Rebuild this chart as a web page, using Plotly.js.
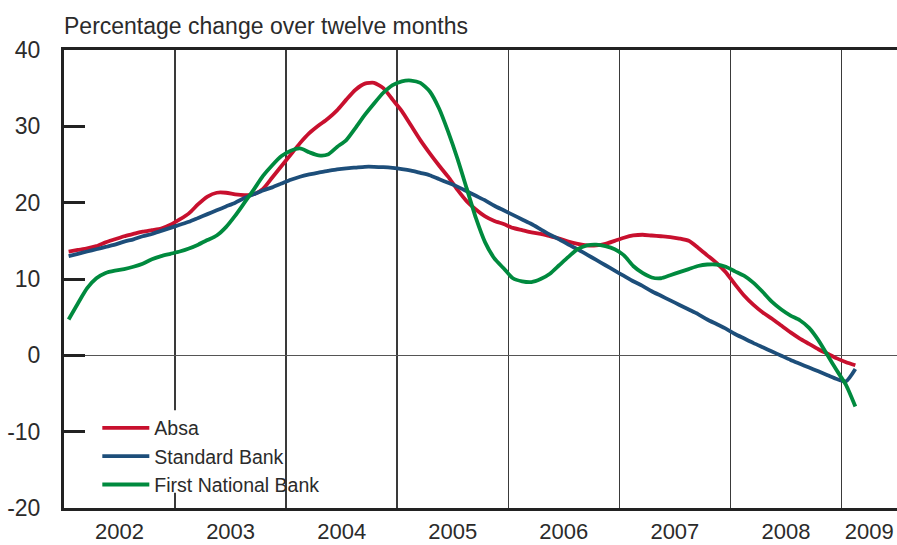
<!DOCTYPE html>
<html>
<head>
<meta charset="utf-8">
<script src="https://cdn.plot.ly/plotly-3.0.1.min.js"></script>
<style>html,body{margin:0;padding:0;background:#fff;}#chart{width:897px;height:545px;}</style>
</head>
<body>
<div id="chart"></div>
<script>
// Monthly observations, Jan 2002 .. Feb 2009 (plotted at mid-month)
const startYear = 2002;
const months = 86;

const absa = [13.6,13.8,14.0,14.3,14.8,15.2,15.6,15.9,16.2,16.4,16.6,17.1,
  17.8,18.6,19.8,20.8,21.3,21.3,21.1,21.0,21.1,21.8,23.3,24.8,
  26.3,27.8,29.1,30.1,31.0,32.1,33.5,34.8,35.6,35.7,35.0,33.5,
  32.0,30.1,28.2,26.5,24.9,23.4,21.7,20.2,19.1,18.2,17.6,17.2,
  16.7,16.4,16.1,15.9,15.6,15.3,14.9,14.6,14.4,14.4,14.6,15.0,
  15.4,15.7,15.8,15.7,15.6,15.5,15.3,15.0,14.1,13.1,12.1,10.9,
  9.3,7.8,6.6,5.6,4.8,3.9,3.0,2.2,1.5,0.8,0.2,-0.4,
  -0.9,-1.3];

const standardBank = [13.0,13.3,13.6,13.9,14.2,14.5,14.9,15.2,15.6,15.9,16.3,16.7,
  17.1,17.5,18.0,18.5,19.0,19.5,20.0,20.6,21.1,21.6,22.0,22.5,
  23.0,23.4,23.7,23.95,24.15,24.35,24.5,24.6,24.7,24.7,24.65,24.55,
  24.4,24.2,23.9,23.6,23.1,22.6,22.1,21.5,20.9,20.3,19.6,19.0,
  18.4,17.8,17.2,16.5,15.8,15.2,14.5,13.9,13.2,12.5,11.8,11.1,
  10.4,9.7,9.1,8.4,7.8,7.2,6.6,6.0,5.4,4.7,4.1,3.5,
  2.8,2.2,1.6,1.05,0.5,-0.05,-0.6,-1.1,-1.6,-2.1,-2.6,-3.1,
  -3.4,-1.8];

const firstNational = [4.7,6.8,8.8,10.1,10.8,11.1,11.3,11.6,12.0,12.6,13.0,13.3,
  13.6,14.0,14.5,15.1,15.7,16.8,18.3,20.0,21.7,23.5,24.9,26.1,
  26.8,27.1,26.6,26.2,26.3,27.3,28.2,29.8,31.5,33.0,34.4,35.4,
  35.9,36.0,35.7,34.6,32.4,29.3,25.8,21.9,18.0,14.8,12.7,11.4,
  10.1,9.7,9.6,10.0,10.7,11.8,12.9,13.9,14.4,14.5,14.3,13.9,
  13.1,11.7,10.8,10.2,10.1,10.5,10.9,11.3,11.7,11.9,11.9,11.6,
  11.0,10.4,9.5,8.3,7.0,6.0,5.2,4.6,3.6,2.0,0.0,-2.0,
  -3.9,-6.7];

const yearLabels = ['2002','2003','2004','2005','2006','2007','2008','2009'];
const yearLabelPos = [2002.5,2003.5,2004.5,2005.5,2006.5,2007.5,2008.5,2009.25];
const yearBoundaries = [2003,2004,2005,2006,2007,2008,2009];
const yTicks = [-20,-10,0,10,20,30,40];
const yTickLabels = ['-20','-10','0','10','20','30','40'];

const x = [];
for (let i = 0; i < months; i++) x.push(startYear + (i + 0.5) / 12);

const textColor = '#2b2b2b';
const font = {family: '"Liberation Sans", Arial, sans-serif', color: textColor};

const traces = [
  {x: x, y: absa, name: 'Absa', mode: 'lines', line: {color: '#c8102e', width: 3.8, shape: 'spline', smoothing: 0.6}},
  {x: x, y: standardBank, name: 'Standard Bank', mode: 'lines', line: {color: '#1d4e7a', width: 3.8, shape: 'spline', smoothing: 0.6}},
  {x: x, y: firstNational, name: 'First National Bank', mode: 'lines', line: {color: '#008a3e', width: 3.8, shape: 'spline', smoothing: 0.6}}
];

const layout = {
  width: 897, height: 545,
  margin: {l: 64, r: 0, t: 50, b: 37, pad: 0},
  paper_bgcolor: '#fff', plot_bgcolor: '#fff',
  font: Object.assign({size: 23}, font),
  showlegend: true,
  title: {text: 'Percentage change over twelve months', x: 0, xref: 'paper', xanchor: 'left',
          y: 1 - 26/545, yref: 'container', yanchor: 'middle',
          font: Object.assign({size: 23}, font)},
  xaxis: {
    range: [2002, 2009.5], fixedrange: true,
    tickmode: 'array', tickvals: yearLabelPos, ticktext: yearLabels,
    ticks: '', showgrid: false, zeroline: false,
    showline: true, linecolor: '#222', linewidth: 3, mirror: true,
    ticklabelstandoff: 2,
    tickfont: Object.assign({size: 22}, font),
    minor: {tickmode: 'array', tickvals: yearBoundaries, showgrid: true, gridcolor: '#3a3a3a', gridwidth: 1.5, ticks: ''}
  },
  yaxis: {
    range: [-20, 40], fixedrange: true,
    tickmode: 'array', tickvals: yTicks, ticktext: yTickLabels,
    ticks: 'inside', ticklen: 21, tickwidth: 3, tickcolor: '#222',
    showgrid: false, zeroline: true, zerolinecolor: '#555', zerolinewidth: 1.5,
    showline: true, linecolor: '#222', linewidth: 3, mirror: false,
    ticklabelstandoff: 16,
    tickfont: Object.assign({size: 23}, font)
  },
  legend: {
    x: 0.04, y: 0.217, xanchor: 'left', yanchor: 'top',
    bgcolor: 'rgba(0,0,0,0)', borderwidth: 0,
    font: Object.assign({size: 19.5}, font),
    itemwidth: 47, tracegroupgap: 0
  },
  shapes: [
    {type: 'rect', xref: 'x', yref: 'y', x0: 2002.94, x1: 2003.06, y0: -18.0, y1: -7.2,
     fillcolor: '#fff', line: {width: 0}, layer: 'above'}
  ]
};

Plotly.newPlot('chart', traces, layout, {staticPlot: true, displayModeBar: false});
</script>
</body>
</html>
